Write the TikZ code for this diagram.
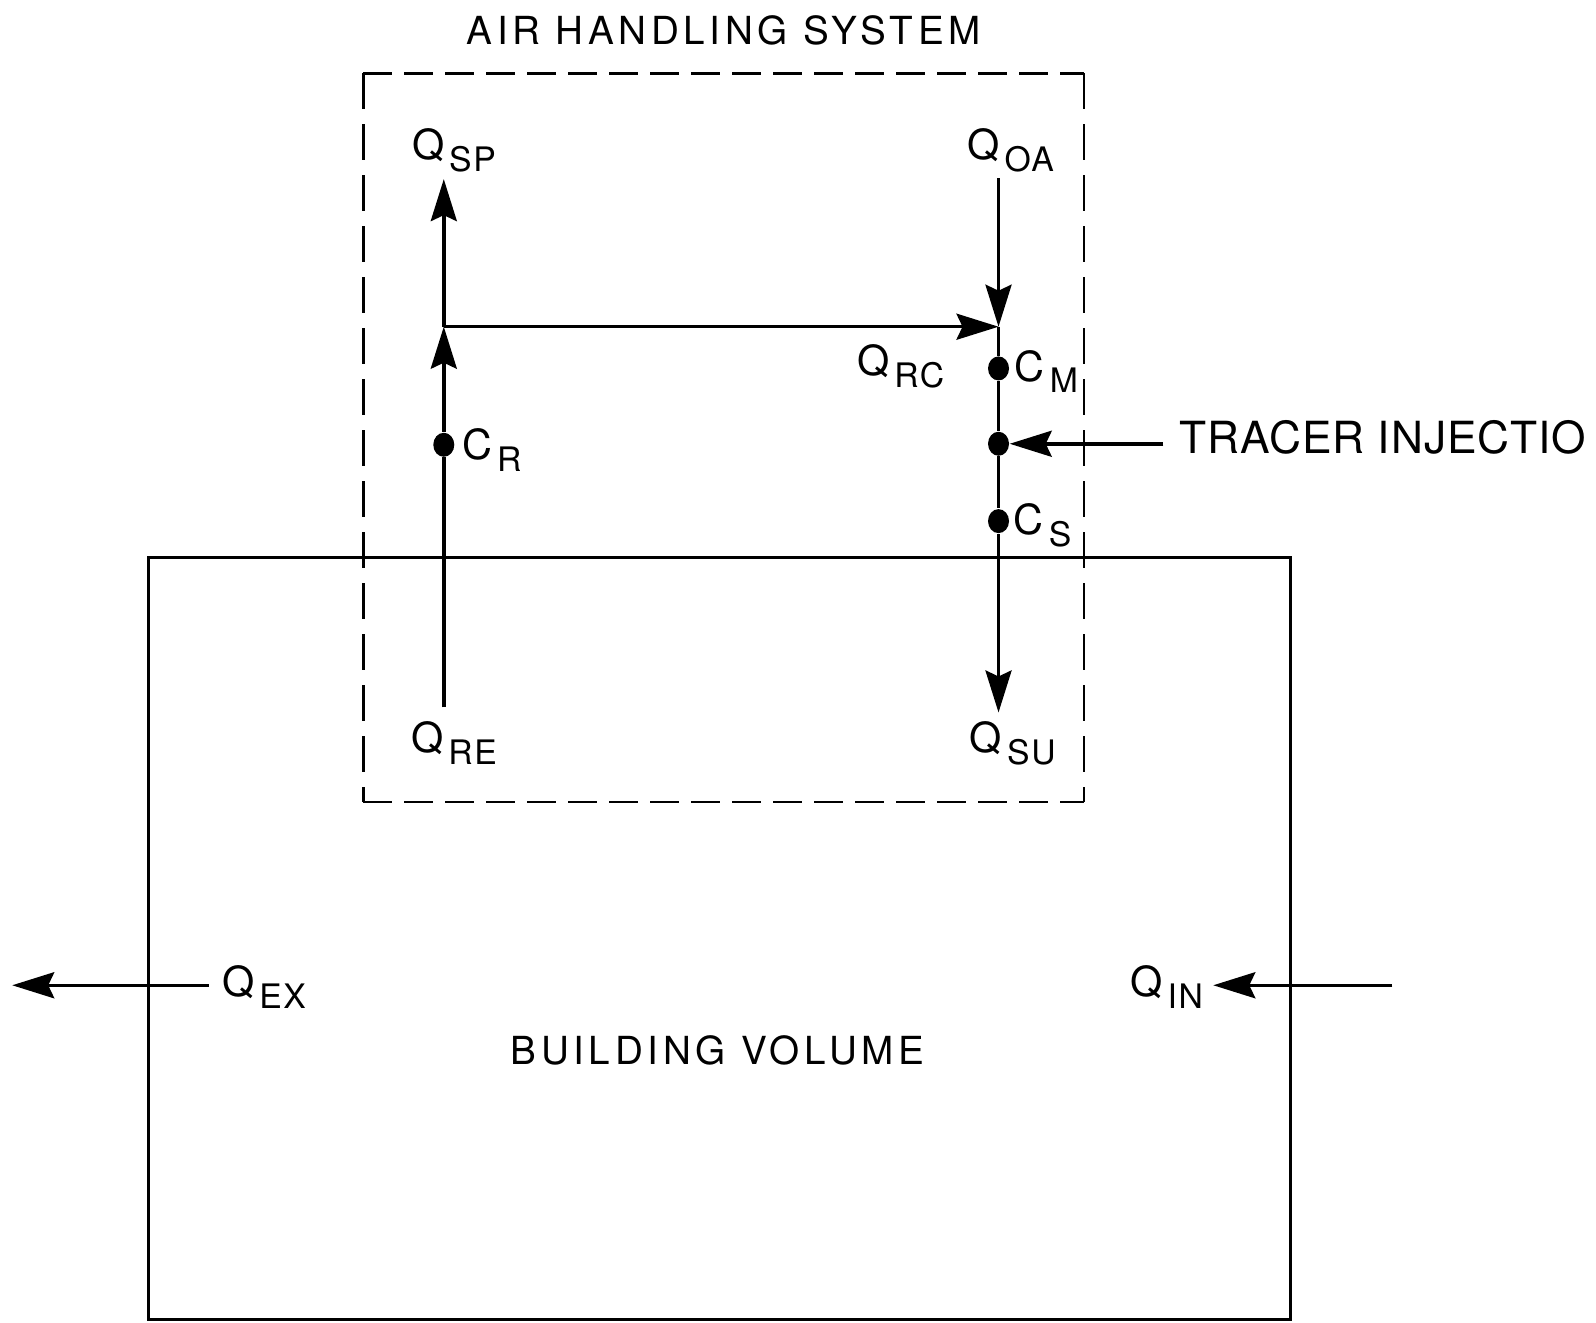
\documentclass[tikz,border=0pt]{standalone}
\usepackage{fontspec}
\setmainfont{TeX Gyre Heros}
\usetikzlibrary{positioning,arrows.meta,shapes.geometric}
\newcommand{\sublab}[2]{#1\hspace{0.12em}\raisebox{-0.55ex}{\fontsize{9.6}{10}\selectfont\addfontfeatures{LetterSpace=5}#2}}

\begin{document}
\begin{tikzpicture}[x=1.0179cm, y=1.0179cm, background/.style={fill=white}]
    \tikzset{
        flow/.style = {line width=1pt, -{Stealth[length=4.2mm, width=2.6mm, inset=0.6mm]}},
        pipe/.style = {line width=1pt},
        hdash/.style = {line width=0.8pt, dash pattern=on 2.9mm off 1.2mm},
        vdash/.style = {line width=0.8pt, dash pattern=on 3.6mm off 1.5mm},
        probe/.style = {ellipse, fill=black, inner sep=0pt, minimum width=2.1mm, minimum height=2.4mm},
        qlabel/.style = {font=\fontsize{11.8}{14}\selectfont, inner sep=1pt},
        caption/.style = {font=\fontsize{11}{13}\selectfont\addfontfeatures{LetterSpace=12}, inner sep=1pt}
    }
    \useasboundingbox[background] (0,0) rectangle (15.68,12.99);

    % air handling system and building
    \draw[hdash] (3.57,12.27) -- (10.65,12.27);
    \draw[hdash] (3.57,5.11) -- (10.65,5.11);
    \draw[vdash] (3.57,12.27) -- (3.57,5.11);
    \draw[vdash] (10.65,12.27) -- (10.65,5.11);
    \draw[line width=0.8pt] (1.46,0.03) rectangle (12.68,7.51);

    \node (ahs) [caption] at (7.11,12.69) {AIR HANDLING SYSTEM};
    \node (bv) [caption] at (7.05,2.67) {BUILDING VOLUME};

    % return side
    \coordinate (reEnd) at (4.36,6.04);
    \coordinate (split) at (4.36,9.78);
    \coordinate (spEnd) at (4.36,11.23);
    \node (cr) [probe] at (4.36,8.62) {};
    \node (qre) [qlabel] at (4.46,5.69) {\sublab{Q}{RE}};
    \node (qsp) [qlabel] at (4.46,11.51) {\sublab{Q}{SP}};
    \node (crLabel) [qlabel, anchor=west] at (4.50,8.57) {\sublab{C}{R}};

    % supply side
    \coordinate (oaStart) at (9.81,11.24);
    \coordinate (mix) at (9.81,9.78);
    \coordinate (suEnd) at (9.81,5.99);
    \node (cm) [probe] at (9.81,9.37) {};
    \node (inj) [probe] at (9.81,8.63) {};
    \node (cs) [probe] at (9.81,7.87) {};
    \node (qoa) [qlabel] at (9.93,11.51) {\sublab{Q}{OA}};
    \node (qsu) [qlabel] at (9.95,5.69) {\sublab{Q}{SU}};
    \node (qrc) [qlabel] at (8.85,9.39) {\sublab{Q}{RC}};
    \node (cmLabel) [qlabel, anchor=west] at (9.93,9.34) {\sublab{C}{M}};
    \node (csLabel) [qlabel, anchor=west] at (9.92,7.83) {\sublab{C}{S}};

    \coordinate (tracer) at (11.43,8.63);
    \node (tracerLabel) [qlabel, font=\fontsize{12.6}{14}\selectfont\addfontfeatures{LetterSpace=2}, anchor=west] at (11.55,8.69) {TRACER INJECTIO};

    % exfiltration and infiltration
    \coordinate (exStart) at (2.05,3.31);
    \coordinate (exEnd) at (0.12,3.31);
    \coordinate (inStart) at (13.68,3.31);
    \coordinate (inEnd) at (11.92,3.31);
    \node (qex) [qlabel, anchor=west] at (2.14,3.29) {\sublab{Q}{EX}};
    \node (qin) [qlabel, anchor=east] at (11.86,3.29) {\sublab{Q}{IN}};

    \draw[pipe] (reEnd) -- (cr);
    \draw[flow] (cr) -- (split);
    \draw[flow] (split) -- (spEnd);
    \draw[flow] (split) -- (mix);
    \draw[flow] (oaStart) -- (mix);
    \draw[pipe] (mix) -- (cm) -- (inj) -- (cs);
    \draw[flow] (cs) -- (suEnd);
    \draw[flow] (tracer) -- (inj);
    \draw[flow] (exStart) -- (exEnd);
    \draw[flow] (inStart) -- (inEnd);
\end{tikzpicture}
\end{document}
